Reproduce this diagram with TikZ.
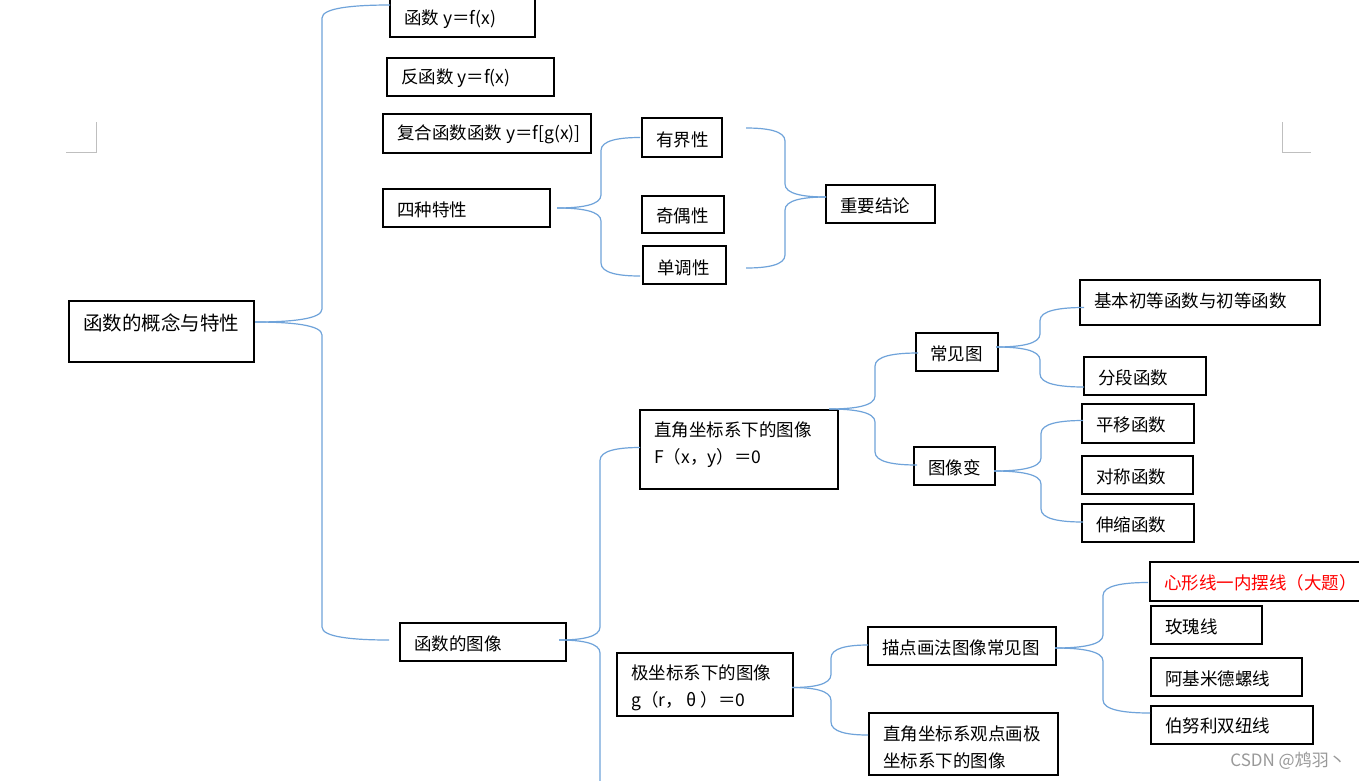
\documentclass[tikz,border=0pt]{standalone}
\usepackage{fontspec}
\setmainfont{Noto Sans CJK SC}
\usetikzlibrary{calc}
\definecolor{connblue}{HTML}{6FA3DA}
\definecolor{markgray}{HTML}{BFBFBF}
\newcommand\bx[7]{%
  \node[box, minimum width={#4pt-#2pt}, minimum height={#5pt-#3pt}, anchor=north west] (#1) at (#2,#3) {};
  \node[txt] (#1t) at ($(#1.north west)+(14,#6+1.5)$) {#7};}
\newcommand\brc[3]{%
  \draw[cn] let \p1=(#1), \p2=(#3), \n1={ifthenelse(\y2>\y1,1,-1)} in
   (\p1) .. controls ($(\p1)!0.55!(#2pt,\y1)$) and (#2pt,\y1+\n1*3pt) .. (#2pt,\y1+\n1*13pt)
   -- (#2pt,\y2-\n1*13pt) .. controls (#2pt,\y2-\n1*3pt) and ($(\p2)!0.55!(#2pt,\y2)$) .. (\p2);}
\begin{document}
\begin{tikzpicture}[x=1pt,y=-1pt,
  box/.style={draw=black, line width=1.2pt, inner sep=0pt, outer sep=0pt, fill=white},
  txt/.style={inner sep=0pt, anchor=west, align=left, font=\fontsize{17.5}{27}\selectfont},
  cn/.style={draw=connblue, line width=1.2pt},
  cornermark/.style={draw=markgray, line width=0.8pt}]
\useasboundingbox (0,0) rectangle (1359,780);
\fill[white] (0,0) rectangle (1359,780);

% corner marks
\draw[cornermark] (66,152) -- (96,152) -- (96,122);
\draw[cornermark] (1282,122) -- (1282,152) -- (1311,152);

% boxes
\bx{root}{69}{301}{254}{362}{20}{\fontsize{19.5}{27}\selectfont 函数的概念与特性}
\bx{f1}{390}{-2}{535}{37}{20}{函数 y＝f(x)}
\bx{f2}{387}{58}{554}{96}{19}{反函数 y＝f(x)}
\bx{f3}{383}{114}{591}{153}{19}{复合函数函数 y＝f[g(x)]}
\bx{f4}{383}{189}{550}{227}{19}{四种特性}
\bx{p1}{642}{118}{722}{157}{20}{有界性}
\bx{p2}{642}{196}{724}{233}{18}{奇偶性}
\bx{p3}{643}{246}{726}{284}{20}{单调性}
\bx{jl}{826}{185}{935}{223}{19}{重要结论}
\bx{tx}{400}{623}{566}{661}{19}{函数的图像}
\bx{zj}{640}{410}{838}{489}{33.5}{直角坐标系下的图像\\F（x，y）＝0}
\bx{cj}{916}{333}{998}{371}{19}{常见图}
\bx{bh}{914}{447}{995}{485}{19}{图像变}
\bx{jb}{1080}{280}{1320}{325}{19}{基本初等函数与初等函数}
\bx{fd}{1084}{357}{1206}{395}{19}{分段函数}
\bx{py}{1082}{404}{1194}{443}{19}{平移函数}
\bx{dc}{1082}{456}{1193}{494}{19}{对称函数}
\bx{ss}{1082}{504}{1194}{542}{19}{伸缩函数}
\bx{jz}{617}{653}{793}{716}{33}{极坐标系下的图像\\g（r， θ ）＝0}
\bx{md}{868}{627}{1056}{665}{19}{描点画法图像常见图}
\bx{gd}{869}{713}{1058}{775}{33}{直角坐标系观点画极\\坐标系下的图像}
\bx{xx}{1150}{562}{1365}{601}{19}{\color{red}心形线一内摆线（大题）}
\bx{mg}{1151}{606}{1262}{644}{19}{玫瑰线}
\bx{aj}{1151}{658}{1302}{696}{19}{阿基米德螺线}
\bx{bn}{1151}{706}{1313}{744}{18}{伯努利双纽线}

% connector end points
\coordinate (s-root) at ($(root.north east)+(1,21)$);
\coordinate (e-f1) at ($(f1.north west)+(0,7)$);
\coordinate (e-tx) at ($(tx.west)+(-11,-2)$);
\coordinate (s-f4) at ($(f4.east)+(7,0)$);
\coordinate (e-p1) at ($(p1.west)+(-2,0)$);
\coordinate (e-p3) at ($(p3.west)+(-3,11)$);
\coordinate (s-p1) at ($(p1.north east)+(24,10)$);
\coordinate (s-p3) at ($(p3.north east)+(20,22)$);
\coordinate (e-jl) at ($(jl.west)+(0,-7)$);
\coordinate (s-tx) at ($(tx.east)+(-7,-2)$);
\coordinate (e-zj) at ($(zj.west)+(0,-2)$);
\coordinate (e-down) at (600,800);
\coordinate (s-zj) at ($(zj.north east)+(-9,-1)$);
\coordinate (e-cj) at ($(cj.west)+(2,1)$);
\coordinate (e-bh) at ($(bh.west)+(3,-1)$);
\coordinate (s-cj) at ($(cj.east)+(-2,-5)$);
\coordinate (e-jb) at ($(jb.west)+(4,5)$);
\coordinate (e-fd) at ($(fd.west)+(0,11)$);
\coordinate (s-bh) at ($(bh.east)+(-1,5)$);
\coordinate (e-py) at ($(py.west)+(1,-3)$);
\coordinate (e-ss) at ($(ss.west)+(1,-1)$);
\coordinate (s-jz) at ($(jz.east)+(-1,3)$);
\coordinate (e-md) at ($(md.west)+(0,-1)$);
\coordinate (e-gd) at ($(gd.west)+(-1,-9)$);
\coordinate (s-md) at ($(md.east)+(-1,2)$);
\coordinate (e-xx) at ($(xx.west)+(-2,1)$);
\coordinate (e-bn) at ($(bn.west)+(-1,-12)$);

% connectors
\brc{s-root}{322}{e-f1}
\brc{s-root}{322}{e-tx}
\brc{s-f4}{601}{e-p1}
\brc{s-f4}{601}{e-p3}
\brc{s-p1}{785}{e-jl}
\brc{s-p3}{785}{e-jl}
\brc{s-tx}{600}{e-zj}
\draw[cn] (s-tx) .. controls ($(s-tx)!0.55!(600,640)$) and (600,643) .. (600,653) -- (e-down);
\brc{s-zj}{875}{e-cj}
\brc{s-zj}{875}{e-bh}
\brc{s-cj}{1040}{e-jb}
\brc{s-cj}{1040}{e-fd}
\brc{s-bh}{1041}{e-py}
\brc{s-bh}{1041}{e-ss}
\brc{s-jz}{831}{e-md}
\brc{s-jz}{831}{e-gd}
\brc{s-md}{1103}{e-xx}
\brc{s-md}{1103}{e-bn}

% watermark
\node[anchor=east, inner sep=0pt, text=black!40, font=\fontsize{17}{20}\selectfont] (wm) at (1346,761) {CSDN @鸩羽丶};
\end{tikzpicture}
\end{document}
